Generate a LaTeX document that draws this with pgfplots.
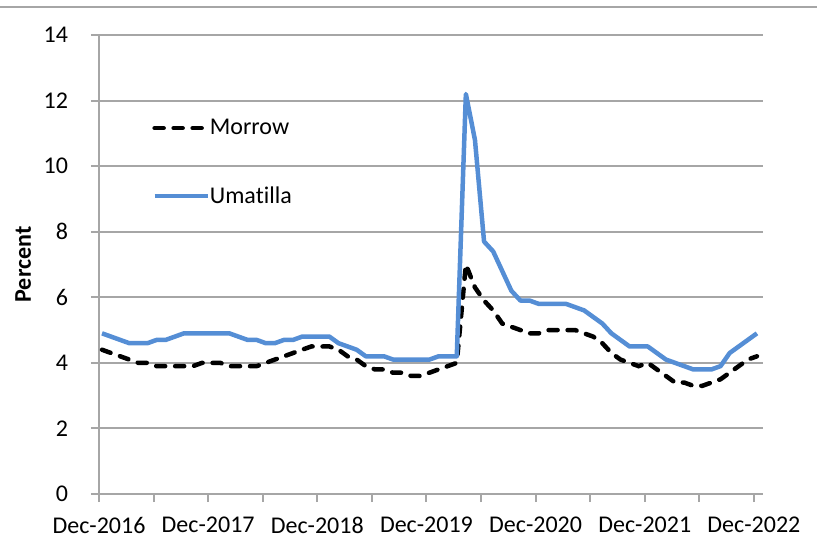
\documentclass[border=0pt]{standalone}
\usepackage{pgfplots}
\pgfplotsset{compat=1.18}
\usepackage{pgfplotstable}
\usepackage{fontspec}
\setmainfont[Ligatures={NoCommon,NoContextual}]{Carlito}
\definecolor{ublue}{RGB}{85,142,213}
\definecolor{gridgray}{RGB}{166,166,166}
\pgfplotstableread{
i M U
0 4.4 4.9
1 4.3 4.8
2 4.2 4.7
3 4.1 4.6
4 4.0 4.6
5 4.0 4.6
6 3.9 4.7
7 3.9 4.7
8 3.9 4.8
9 3.9 4.9
10 3.9 4.9
11 4.0 4.9
12 4.0 4.9
13 4.0 4.9
14 3.9 4.9
15 3.9 4.8
16 3.9 4.7
17 3.9 4.7
18 4.0 4.6
19 4.1 4.6
20 4.2 4.7
21 4.3 4.7
22 4.4 4.8
23 4.5 4.8
24 4.5 4.8
25 4.5 4.8
26 4.4 4.6
27 4.2 4.5
28 4.1 4.4
29 3.9 4.2
30 3.8 4.2
31 3.8 4.2
32 3.7 4.1
33 3.7 4.1
34 3.6 4.1
35 3.6 4.1
36 3.7 4.1
37 3.8 4.2
38 3.9 4.2
39 4.0 4.2
40 7.0 12.2
41 6.3 10.8
42 5.9 7.7
43 5.6 7.4
44 5.2 6.8
45 5.1 6.2
46 5.0 5.9
47 4.9 5.9
48 4.9 5.8
49 5.0 5.8
50 5.0 5.8
51 5.0 5.8
52 5.0 5.7
53 4.9 5.6
54 4.8 5.4
55 4.6 5.2
56 4.3 4.9
57 4.1 4.7
58 4.0 4.5
59 3.9 4.5
60 4.0 4.5
61 3.8 4.3
62 3.6 4.1
63 3.4 4.0
64 3.4 3.9
65 3.3 3.8
66 3.3 3.8
67 3.4 3.8
68 3.5 3.9
69 3.7 4.3
70 3.9 4.5
71 4.1 4.7
72 4.2 4.9
}\datatable
\begin{document}
\begin{tikzpicture}
\begin{axis}[
  at={(0pt,0pt)}, anchor=south west,
  scale only axis, width=332pt, height=229.5pt,
  xmin=0, xmax=73, ymin=0, ymax=14,
  axis x line*=bottom, axis y line*=left,
  axis line style={gridgray, line width=1pt},
  xtick={0,6,...,72},
  xticklabels={Dec-2016,,Dec-2017,,Dec-2018,,Dec-2019,,Dec-2020,,Dec-2021,,Dec-2022},
  ytick={0,2,...,14},
  tick align=outside, major tick length=4pt,
  tick style={gridgray, line width=1pt},
  ymajorgrids, grid style={gridgray, line width=1pt},
  ticklabel style={font=\fontsize{12}{14}\selectfont},
  /pgf/number format/assume math mode=true,
  yticklabel style={xshift=-8pt},
  xticklabel style={yshift=-4pt},
  ylabel={\textbf{Percent}},
  ylabel style={font=\fontsize{12}{14}\selectfont, at={(axis description cs:-0.114,0.5)}, anchor=center, rotate=0},
  legend style={draw=none, fill=none, font=\fontsize{12}{14}\selectfont,
    at={(axis description cs:0.0798,0.818)}, anchor=north west,
    inner sep=0pt, nodes={inner sep=0pt}, row sep=24.5pt},
  legend cell align=left,
  legend image code/.code={\draw[#1] (0pt,0pt) -- (26.5pt,0pt);},
  every even column/.append style={column sep=5pt},
]
\addplot[black, line width=2.25pt, line cap=round, dash pattern=on 4.5pt off 5pt] table[x expr=\thisrow{i}+0.333, y=M] {\datatable};
\addlegendentry{Morrow}
\addplot[ublue, line width=2.25pt, line join=round] table[x expr=\thisrow{i}+0.333, y=U] {\datatable};
\addlegendentry{Umatilla}
\end{axis}
\draw[gridgray, line width=1pt] (-49.5pt,243.5pt) -- (359pt,243.5pt);
\pgfresetboundingbox
\path[use as bounding box] (-49.5pt,-29pt) rectangle (359pt,247pt);
\end{tikzpicture}
\end{document}
